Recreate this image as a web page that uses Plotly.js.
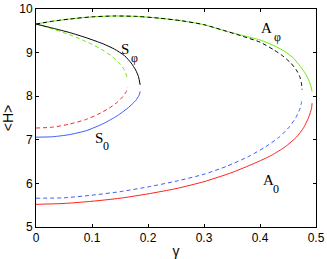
<!DOCTYPE html>
<html><head><meta charset="utf-8">
<script src="https://cdn.plot.ly/plotly-3.0.1.min.js"></script>
<style>html,body{margin:0;padding:0;background:#fff}#c{width:327px;height:259px}</style>
</head><body><div id="c"></div>
<script>
// Upper branch A_phi (green solid)
const gAphiSolid = [0, 0.03, 0.06, 0.1, 0.14, 0.18, 0.22, 0.26, 0.3, 0.34, 0.37, 0.4, 0.425, 0.445, 0.46, 0.472, 0.482, 0.488, 0.491, 0.493];
const hAphiSolid = [9.656, 9.72, 9.77, 9.82, 9.84, 9.83, 9.79, 9.73, 9.64, 9.49, 9.39, 9.29, 9.16, 9.02, 8.87, 8.68, 8.50, 8.34, 8.22, 8.11];
// Upper branch A_phi (black dashed)
const gAphiDash = [0, 0.03, 0.06, 0.1, 0.14, 0.18, 0.22, 0.26, 0.3, 0.34, 0.37, 0.4, 0.425, 0.44, 0.455, 0.465, 0.471, 0.474, 0.475];
const hAphiDash = [9.656, 9.72, 9.77, 9.82, 9.84, 9.83, 9.79, 9.73, 9.64, 9.49, 9.37, 9.24, 9.06, 8.93, 8.76, 8.60, 8.45, 8.30, 8.15];
// S_phi (black solid)
const gSphiSolid = [0, 0.03, 0.06, 0.09, 0.12, 0.14, 0.158, 0.17, 0.178, 0.183, 0.186];
const hSphiSolid = [9.656, 9.56, 9.46, 9.34, 9.20, 9.08, 8.93, 8.76, 8.60, 8.45, 8.26];
// S_phi (green dashed)
const gSphiDash = [0, 0.03, 0.06, 0.09, 0.115, 0.135, 0.15, 0.158, 0.163];
const hSphiDash = [9.656, 9.54, 9.41, 9.25, 9.09, 8.92, 8.74, 8.60, 8.42];
// S_0 (blue solid)
const gS0Solid = [0, 0.03, 0.06, 0.09, 0.12, 0.145, 0.165, 0.178, 0.184, 0.186];
const hS0Solid = [7.06, 7.07, 7.12, 7.21, 7.37, 7.55, 7.74, 7.90, 8.02, 8.11];
// S_0 (red dashed)
const gS0Dash = [0, 0.03, 0.06, 0.09, 0.11, 0.13, 0.145, 0.155, 0.161, 0.164];
const hS0Dash = [7.27, 7.29, 7.36, 7.47, 7.58, 7.72, 7.86, 7.99, 8.10, 8.20];
// A_0 (red solid)
const gA0Solid = [0, 0.05, 0.1, 0.15, 0.2, 0.25, 0.3, 0.35, 0.39, 0.42, 0.445, 0.465, 0.478, 0.487, 0.492, 0.493];
const hA0Solid = [5.52, 5.54, 5.59, 5.66, 5.76, 5.88, 6.04, 6.25, 6.46, 6.64, 6.84, 7.06, 7.28, 7.52, 7.72, 7.84];
// A_0 (blue dashed)
const gA0Dash = [0, 0.05, 0.1, 0.15, 0.2, 0.25, 0.3, 0.34, 0.38, 0.41, 0.435, 0.452, 0.464, 0.471, 0.474, 0.475];
const hA0Dash = [5.66, 5.67, 5.73, 5.81, 5.92, 6.05, 6.21, 6.39, 6.62, 6.84, 7.07, 7.29, 7.51, 7.70, 7.85, 7.93];

// Curve labels: main letter and subscript
const labelMain = ["A", "S", "S", "A"];
const labelSub = ["φ", "φ", "0", "0"];
const mainX = [0.400, 0.150, 0.1036, 0.4036];
const mainY = [9.564, 9.094, 7.04, 6.078];
const subX = [0.423, 0.168, 0.118, 0.422];
const subY = [9.358, 8.876, 6.858, 5.87];

const GREEN = '#66ee00', RED = '#ff2020', BLUE = '#3a5cff', BLACK = '#000000';
const DASH = '4px,3px';
function tr(x, y, color, dash) {
  return {x: x, y: y, type: 'scatter', mode: 'lines', hoverinfo: 'skip',
    line: {color: color, width: 1, dash: dash || 'solid', shape: 'spline', smoothing: 0.6}};
}
const data = [
  tr(gAphiSolid, hAphiSolid, GREEN),
  tr(gAphiDash, hAphiDash, BLACK, DASH),
  tr(gSphiDash, hSphiDash, GREEN, DASH),
  tr(gSphiSolid, hSphiSolid, BLACK),
  tr(gS0Dash, hS0Dash, RED, DASH),
  tr(gS0Solid, hS0Solid, BLUE),
  tr(gA0Dash, hA0Dash, BLUE, DASH),
  tr(gA0Solid, hA0Solid, RED)
];
const annotations = [];
labelMain.forEach((t, i) => {
  annotations.push({text: t, x: mainX[i], y: mainY[i], xref: 'x', yref: 'y',
    xanchor: 'left', yanchor: 'middle', showarrow: false, borderpad: 0,
    font: {family: 'Liberation Serif, serif', size: 15, color: '#000'}});
  annotations.push({text: labelSub[i], x: subX[i], y: subY[i], xref: 'x', yref: 'y',
    xanchor: 'left', yanchor: 'middle', showarrow: false, borderpad: 0,
    font: {family: 'Liberation Serif, serif', size: 12, color: '#000'}});
});
const axisCommon = {
  showgrid: false, zeroline: false, showline: true, linecolor: '#000', linewidth: 1,
  mirror: 'ticks', ticks: 'inside', ticklen: 3, tickcolor: '#000', tickwidth: 1,
  tickfont: {family: 'Liberation Sans, Arial, sans-serif', size: 12, color: '#000'}
};
const layout = {
  width: 327, height: 259,
  margin: {l: 36, r: 11, t: 9, b: 32},
  paper_bgcolor: '#fff', plot_bgcolor: '#fff',
  showlegend: false,
  xaxis: Object.assign({}, axisCommon, {range: [0, 0.5], dtick: 0.1, tick0: 0,
    title: {text: 'γ', font: {family: 'Liberation Sans, Arial, sans-serif', size: 14, color: '#000'}, standoff: 2}}),
  yaxis: Object.assign({}, axisCommon, {range: [5, 10], dtick: 1, tick0: 5,
    title: {text: '&lt;H&gt;', font: {family: 'Liberation Sans, Arial, sans-serif', size: 14, color: '#000'}, standoff: 5}}),
  annotations: annotations
};
Plotly.newPlot('c', data, layout, {staticPlot: true, displayModeBar: false});
</script>
</body></html>
